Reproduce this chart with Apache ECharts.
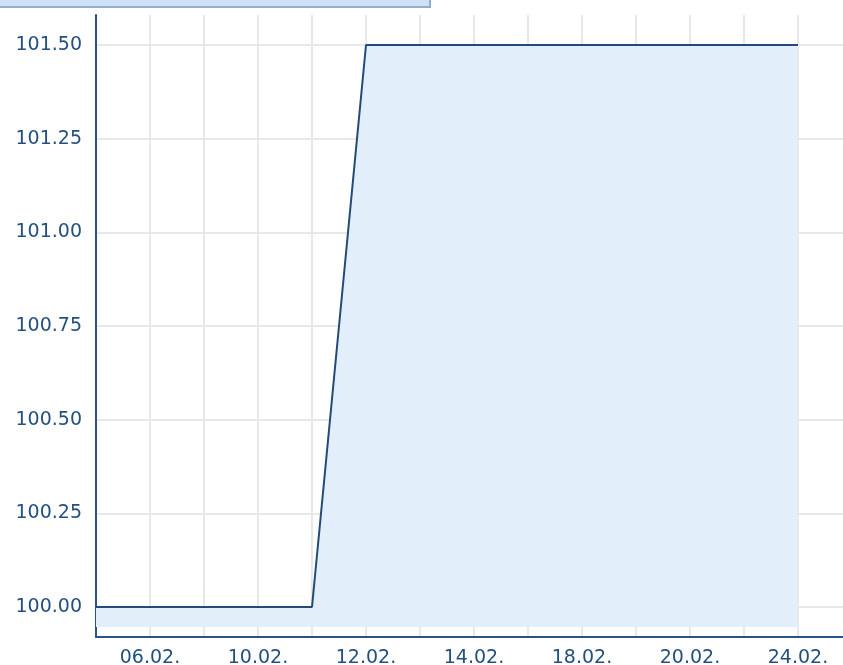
<!DOCTYPE html>
<html>
<head>
<meta charset="utf-8">
<script src="https://cdn.jsdelivr.net/npm/echarts@6/dist/echarts.min.js"></script>
<style>
  html, body { margin: 0; padding: 0; background: #fff; overflow: hidden; }
  /* the chart runs a bit past the right edge of the window, like the original crop */
  #chart { width: 852px; height: 665px; }
</style>
</head>
<body>
<div id="chart"></div>
<script>
// dates on the x axis (every other one is labelled)
var dates = ['05.02.', '06.02.', '07.02.', '10.02.', '11.02.', '12.02.', '13.02.', '14.02.',
             '17.02.', '18.02.', '19.02.', '20.02.', '21.02.', '24.02.', '25.02.'];
// price values, last date has no value
var prices = [100, 100, 100, 100, 100, 101.5, 101.5, 101.5, 101.5, 101.5, 101.5, 101.5, 101.5, 101.5, null];
// y tick labels
var yTicks = [100, 100.25, 100.5, 100.75, 101, 101.25, 101.5];

var navy = '#2a5384';
var chart = echarts.init(document.getElementById('chart'));

var option = {
  animation: false,
  grid: { left: 96, right: 0, top: 15, bottom: 28, outerBoundsMode: 'none' },
  graphic: [{
    type: 'rect',
    shape: { x: -2, y: -2, width: 432, height: 9 },
    style: { fill: '#cfe1f5', stroke: '#94adc9', lineWidth: 2 },
    z: 10
  }],
  xAxis: {
    type: 'category',
    data: dates,
    boundaryGap: false,
    axisLine: { lineStyle: { color: navy, width: 2 } },
    axisTick: { show: false },
    axisLabel: {
      interval: function (idx) { return idx % 2 === 1; },
      color: '#24507f',
      fontFamily: 'DejaVu Sans',
      fontSize: 19,
      margin: 12
    },
    splitLine: { show: true, interval: 0, lineStyle: { color: '#e8e8e8', width: 2 } }
  },
  yAxis: {
    type: 'value',
    min: 99.92,
    max: 101.58,
    axisLine: { show: true, lineStyle: { color: navy, width: 2 } },
    axisTick: { show: false, customValues: yTicks },
    axisLabel: {
      customValues: yTicks,
      formatter: function (v) { return v.toFixed(2); },
      color: '#24507f',
      fontFamily: 'DejaVu Sans',
      fontSize: 19,
      margin: 14
    },
    splitLine: { show: true, lineStyle: { color: '#e8e8e8', width: 2 } }
  },
  series: [{
    type: 'line',
    data: prices,
    symbol: 'none',
    lineStyle: { color: '#234a78', width: 2 },
    areaStyle: { color: '#e2eef9', opacity: 1, origin: 99.947 },
    z: 1
  }]
};
chart.setOption(option);
</script>
</body>
</html>
